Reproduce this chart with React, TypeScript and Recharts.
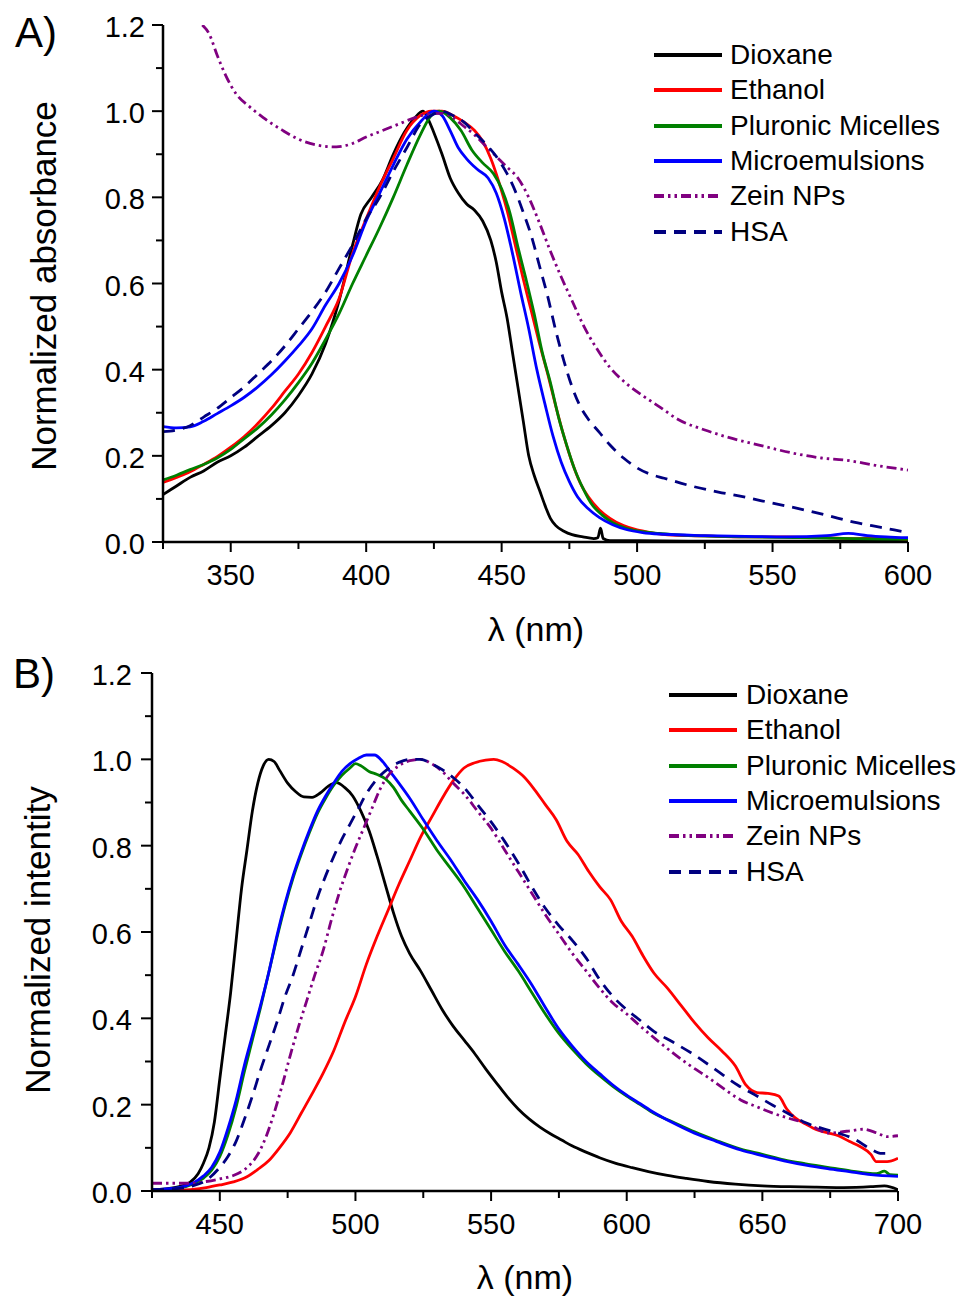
import { Legend, Line, LineChart, XAxis, YAxis } from "recharts";

const FONT = '"Liberation Sans", Arial, Helvetica, sans-serif';

type Pt = [number, number];

// A) absorption spectra: [wavelength nm, normalized absorbance]
const absDioxane: Pt[] = [
  [325, 0.11], [330, 0.13], [335, 0.15], [340, 0.165], [345, 0.185], [350, 0.2], [355, 0.22], [360, 0.245],
  [365, 0.27], [370, 0.3], [375, 0.34], [380, 0.39], [385, 0.46], [390, 0.56], [395, 0.69], [398, 0.76],
  [402, 0.8], [406, 0.84], [410, 0.9], [414, 0.95], [418, 0.985], [421, 1.0], [423, 0.98], [425, 0.95],
  [428, 0.9], [431, 0.845], [434, 0.81], [437, 0.785], [440, 0.77], [443, 0.745], [446, 0.7], [448, 0.65],
  [450, 0.58], [452, 0.52], [454, 0.44], [456, 0.36], [458, 0.28], [460, 0.2], [462, 0.155], [464, 0.12],
  [466, 0.085], [468, 0.055], [470, 0.038], [473, 0.025], [476, 0.017], [480, 0.012], [484, 0.008],
  [485.5, 0.01], [486.5, 0.032], [487.5, 0.008], [490, 0.003], [500, 0.003], [520, 0.002], [550, 0.002],
  [580, 0.002], [600, 0.002],
];
const absEthanol: Pt[] = [
  [325, 0.138], [330, 0.15], [335, 0.163], [340, 0.18], [345, 0.198], [350, 0.22], [355, 0.245], [360, 0.275],
  [365, 0.31], [370, 0.35], [375, 0.39], [380, 0.44], [385, 0.5], [390, 0.565], [395, 0.67], [400, 0.75],
  [405, 0.825], [410, 0.89], [415, 0.955], [420, 0.99], [424, 1.0], [428, 1.0], [432, 0.99], [436, 0.975],
  [440, 0.955], [443, 0.93], [446, 0.89], [449, 0.835], [452, 0.77], [455, 0.69], [458, 0.61], [461, 0.535],
  [464, 0.46], [467, 0.39], [470, 0.315], [473, 0.245], [476, 0.185], [479, 0.137], [482, 0.105], [486, 0.075],
  [490, 0.055], [495, 0.038], [500, 0.028], [505, 0.022], [513, 0.016], [525, 0.014], [540, 0.012],
  [555, 0.012], [570, 0.01], [580, 0.008], [590, 0.01], [600, 0.005],
];
const absPluronic: Pt[] = [
  [325, 0.144], [330, 0.155], [335, 0.168], [340, 0.18], [345, 0.195], [350, 0.215], [355, 0.24], [360, 0.265],
  [365, 0.295], [370, 0.33], [375, 0.37], [380, 0.415], [385, 0.47], [390, 0.53], [395, 0.6], [400, 0.665],
  [405, 0.73], [410, 0.8], [415, 0.875], [420, 0.945], [424, 0.99], [427, 1.0], [431, 0.985], [435, 0.955],
  [439, 0.91], [443, 0.88], [447, 0.855], [450, 0.82], [453, 0.765], [456, 0.685], [459, 0.61], [462, 0.53],
  [465, 0.44], [468, 0.37], [471, 0.29], [474, 0.225], [477, 0.168], [480, 0.125], [483, 0.09], [487, 0.063],
  [491, 0.045], [496, 0.032], [502, 0.024], [508, 0.02], [520, 0.015], [540, 0.012], [560, 0.01],
  [580, 0.008], [600, 0.006],
];
const absMicro: Pt[] = [
  [325, 0.268], [330, 0.265], [335, 0.267], [340, 0.28], [345, 0.298], [350, 0.316], [355, 0.336], [360, 0.36],
  [365, 0.388], [370, 0.42], [375, 0.455], [380, 0.495], [385, 0.55], [390, 0.6], [395, 0.665], [400, 0.745],
  [405, 0.81], [410, 0.875], [415, 0.935], [420, 0.975], [425, 1.0], [428, 0.99], [431, 0.955], [434, 0.915],
  [437, 0.89], [441, 0.865], [445, 0.845], [448, 0.81], [451, 0.75], [454, 0.67], [457, 0.58], [460, 0.495],
  [463, 0.4], [466, 0.32], [469, 0.245], [472, 0.185], [475, 0.14], [478, 0.105], [482, 0.077], [486, 0.057],
  [491, 0.04], [496, 0.029], [502, 0.022], [510, 0.018], [525, 0.015], [540, 0.013], [555, 0.012],
  [570, 0.015], [578, 0.02], [585, 0.015], [592, 0.012], [600, 0.01],
];
const absZein: Pt[] = [
  [339.5, 1.2], [342, 1.18], [345, 1.13], [348, 1.085], [352, 1.04], [357, 1.01], [362, 0.985], [369, 0.956],
  [375, 0.935], [382, 0.921], [389, 0.917], [395, 0.925], [400, 0.94], [406, 0.955], [412, 0.97], [418, 0.985],
  [423, 0.993], [428, 0.995], [432, 0.985], [436, 0.965], [440, 0.945], [444, 0.92], [448, 0.895], [452, 0.87],
  [456, 0.845], [460, 0.8], [464, 0.74], [468, 0.675], [472, 0.615], [476, 0.56], [480, 0.505], [485, 0.45],
  [490, 0.405], [496, 0.368], [502, 0.34], [508, 0.315], [515, 0.285], [525, 0.26], [533, 0.244],
  [545, 0.225], [557, 0.207], [568, 0.195], [577, 0.19], [588, 0.178], [600, 0.167],
];
const absHsa: Pt[] = [
  [325, 0.256], [330, 0.26], [335, 0.27], [340, 0.29], [345, 0.31], [350, 0.335], [355, 0.36], [360, 0.39],
  [365, 0.42], [370, 0.455], [375, 0.495], [380, 0.535], [385, 0.58], [390, 0.635], [395, 0.69], [400, 0.75],
  [405, 0.8], [410, 0.86], [415, 0.915], [420, 0.97], [424, 0.99], [428, 1.0], [432, 0.99], [436, 0.975],
  [440, 0.95], [444, 0.925], [448, 0.895], [452, 0.855], [455, 0.815], [458, 0.765], [461, 0.71], [464, 0.64],
  [467, 0.57], [470, 0.49], [473, 0.42], [476, 0.36], [479, 0.315], [482, 0.285], [486, 0.255], [490, 0.225],
  [495, 0.195], [500, 0.172], [505, 0.157], [510, 0.148], [520, 0.13], [530, 0.116], [540, 0.104],
  [550, 0.09], [560, 0.077], [570, 0.062], [580, 0.046], [590, 0.034], [600, 0.022],
];

// B) emission spectra: [wavelength nm, normalized intensity]
const emDioxane: Pt[] = [
  [425, 0.003], [430, 0.005], [435, 0.01], [439, 0.02], [442, 0.04], [444, 0.065], [446, 0.1], [448, 0.16],
  [450, 0.26], [452, 0.36], [454, 0.46], [456, 0.58], [458, 0.7], [460, 0.79], [462, 0.88], [464, 0.945],
  [466, 0.985], [468, 1.0], [470, 0.995], [472, 0.975], [475, 0.945], [478, 0.925], [481, 0.913], [484, 0.912],
  [487, 0.922], [490, 0.938], [493, 0.946], [496, 0.935], [499, 0.915], [502, 0.88], [505, 0.835], [508, 0.775],
  [511, 0.71], [514, 0.645], [517, 0.59], [520, 0.55], [524, 0.51], [528, 0.465], [532, 0.42], [536, 0.382],
  [540, 0.35], [544, 0.318], [548, 0.283], [552, 0.25], [556, 0.218], [560, 0.19], [564, 0.167], [568, 0.148],
  [572, 0.132], [576, 0.118], [580, 0.104], [585, 0.09], [590, 0.077], [596, 0.064], [602, 0.054], [608, 0.045],
  [615, 0.036], [622, 0.029], [630, 0.022], [640, 0.016], [650, 0.012], [660, 0.01], [670, 0.009], [680, 0.008],
  [690, 0.01], [695, 0.012], [700, 0.003],
];
const emEthanol: Pt[] = [
  [425, 0], [435, 0.002], [440, 0.004], [445, 0.008], [450, 0.014], [455, 0.021], [460, 0.033], [464, 0.05],
  [468, 0.07], [472, 0.1], [476, 0.135], [480, 0.18], [484, 0.225], [488, 0.272], [492, 0.325], [496, 0.39],
  [500, 0.45], [504, 0.525], [508, 0.59], [512, 0.65], [516, 0.71], [520, 0.765], [524, 0.82], [528, 0.865],
  [532, 0.91], [536, 0.95], [540, 0.98], [544, 0.992], [548, 0.998], [551, 1.0], [554, 0.995], [558, 0.98],
  [562, 0.96], [566, 0.93], [570, 0.895], [574, 0.86], [578, 0.81], [582, 0.78], [586, 0.74], [590, 0.705],
  [594, 0.675], [598, 0.625], [602, 0.59], [606, 0.545], [610, 0.505], [615, 0.47], [620, 0.43], [625, 0.39],
  [630, 0.355], [635, 0.325], [640, 0.29], [644, 0.245], [648, 0.228], [652, 0.226], [656, 0.22], [659, 0.19],
  [662, 0.17], [666, 0.155], [670, 0.142], [674, 0.135], [678, 0.128], [682, 0.115], [686, 0.103], [690, 0.085],
  [692, 0.068], [696, 0.068], [700, 0.076],
];
const emPluronic: Pt[] = [
  [425, 0.002], [430, 0.004], [435, 0.007], [440, 0.016], [444, 0.03], [447, 0.048], [450, 0.08], [453, 0.13],
  [456, 0.195], [459, 0.275], [462, 0.35], [465, 0.425], [468, 0.505], [471, 0.585], [474, 0.66], [477, 0.725],
  [480, 0.78], [483, 0.83], [486, 0.875], [489, 0.91], [492, 0.94], [495, 0.963], [498, 0.98], [500, 0.99],
  [502, 0.985], [505, 0.972], [508, 0.965], [511, 0.955], [514, 0.935], [517, 0.905], [520, 0.88], [525, 0.838],
  [530, 0.79], [535, 0.748], [540, 0.705], [545, 0.655], [550, 0.605], [555, 0.555], [560, 0.51], [565, 0.46],
  [570, 0.41], [575, 0.365], [580, 0.328], [585, 0.295], [590, 0.267], [595, 0.242], [600, 0.22], [605, 0.2],
  [610, 0.18], [617, 0.16], [625, 0.137], [633, 0.117], [642, 0.097], [650, 0.085], [658, 0.072], [666, 0.063],
  [674, 0.055], [682, 0.047], [688, 0.042], [692, 0.04], [695, 0.046], [697, 0.038], [700, 0.037],
];
const emMicro: Pt[] = [
  [425, 0.003], [430, 0.005], [435, 0.008], [440, 0.018], [444, 0.035], [447, 0.055], [450, 0.09], [453, 0.145],
  [456, 0.21], [459, 0.29], [462, 0.36], [465, 0.43], [468, 0.505], [471, 0.59], [474, 0.665], [477, 0.73],
  [480, 0.785], [483, 0.835], [486, 0.88], [489, 0.915], [492, 0.945], [495, 0.972], [498, 0.99], [501, 1.002],
  [504, 1.01], [507, 1.01], [510, 0.995], [513, 0.97], [516, 0.945], [520, 0.91], [525, 0.86], [530, 0.812],
  [535, 0.768], [540, 0.72], [545, 0.675], [550, 0.625], [555, 0.57], [560, 0.525], [565, 0.478], [570, 0.425],
  [575, 0.375], [580, 0.335], [585, 0.3], [590, 0.272], [595, 0.245], [600, 0.222], [605, 0.202], [610, 0.182],
  [617, 0.158], [625, 0.134], [633, 0.115], [642, 0.095], [650, 0.082], [658, 0.07], [666, 0.06], [674, 0.052],
  [682, 0.045], [690, 0.038], [700, 0.034],
];
const emZein: Pt[] = [
  [425, 0.018], [430, 0.018], [435, 0.018], [440, 0.018], [445, 0.022], [450, 0.028], [455, 0.036], [458, 0.045],
  [461, 0.06], [464, 0.085], [467, 0.125], [470, 0.18], [473, 0.245], [476, 0.315], [479, 0.38], [482, 0.44],
  [485, 0.5], [488, 0.555], [491, 0.625], [494, 0.69], [497, 0.745], [500, 0.795], [503, 0.84], [506, 0.885],
  [509, 0.93], [512, 0.962], [516, 0.985], [520, 0.997], [524, 1.0], [528, 0.99], [532, 0.972], [536, 0.945],
  [540, 0.92], [545, 0.88], [550, 0.84], [555, 0.79], [560, 0.74], [565, 0.69], [570, 0.64], [575, 0.595],
  [580, 0.55], [585, 0.51], [590, 0.47], [595, 0.435], [600, 0.41], [605, 0.382], [611, 0.35], [617, 0.32],
  [623, 0.292], [630, 0.263], [636, 0.236], [642, 0.211], [648, 0.195], [654, 0.18], [660, 0.168], [666, 0.157],
  [670, 0.145], [674, 0.134], [678, 0.136], [683, 0.14], [687, 0.143], [692, 0.135], [696, 0.126], [700, 0.128],
];
const emHsa: Pt[] = [
  [425, 0.003], [435, 0.006], [440, 0.012], [445, 0.025], [450, 0.055], [453, 0.08], [456, 0.115], [459, 0.165],
  [462, 0.22], [465, 0.28], [468, 0.335], [471, 0.39], [474, 0.45], [477, 0.5], [480, 0.56], [483, 0.62],
  [486, 0.68], [489, 0.73], [492, 0.775], [495, 0.815], [498, 0.85], [501, 0.885], [504, 0.92], [508, 0.955],
  [512, 0.978], [516, 0.993], [520, 1.0], [524, 1.0], [528, 0.99], [532, 0.976], [536, 0.958], [540, 0.935],
  [545, 0.895], [550, 0.855], [555, 0.81], [560, 0.76], [565, 0.705], [570, 0.655], [575, 0.615], [580, 0.58],
  [585, 0.54], [590, 0.49], [595, 0.45], [600, 0.42], [605, 0.395], [610, 0.37], [617, 0.345], [625, 0.315],
  [633, 0.28], [641, 0.245], [648, 0.22], [654, 0.198], [660, 0.178], [666, 0.158], [672, 0.145], [678, 0.134],
  [684, 0.12], [690, 0.097], [694, 0.087], [697, 0.087],
];

const absTicksX = [325, 350, 375, 400, 425, 450, 475, 500, 525, 550, 575, 600];
const emTicksX = [425, 450, 475, 500, 525, 550, 575, 600, 625, 650, 675, 700];
const ticksY = [0, 0.1, 0.2, 0.3, 0.4, 0.5, 0.6, 0.7, 0.8, 0.9, 1.0, 1.1, 1.2];

const seriesNames = ["Dioxane", "Ethanol", "Pluronic Micelles", "Microemulsions", "Zein NPs", "HSA"];
const absSets = [absDioxane, absEthanol, absPluronic, absMicro, absZein, absHsa];
const emSets = [emDioxane, emEthanol, emPluronic, emMicro, emZein, emHsa];

const styles = [
  { color: "#000000", dash: undefined as string | undefined },
  { color: "#ff0000", dash: undefined },
  { color: "#008000", dash: undefined },
  { color: "#0000ff", dash: undefined },
  { color: "#800080", dash: "10 4 2.5 4 2.5 4" },
  { color: "#000080", dash: "12 8" },
];

const toRows = (pts: Pt[]) => pts.map(([x, y]) => ({ x, y }));

function XTick(props: any) {
  const { x, y, payload } = props;
  const v = payload.value as number;
  const major = v % 50 === 0;
  return (
    <g>
      <line x1={x} x2={x} y1={y} y2={y + (major ? 10 : 7)} stroke="#000" strokeWidth={2} />
      {major && (
        <text x={x} y={y + 43} textAnchor="middle" fontSize={29} fontFamily={FONT} fill="#000">
          {v}
        </text>
      )}
    </g>
  );
}

function YTick(props: any) {
  const { x, y, payload, gap } = props;
  const v = payload.value as number;
  const major = Math.round(v * 10) % 2 === 0;
  return (
    <g>
      <line x1={x} x2={x - (major ? 11 : 7)} y1={y} y2={y} stroke="#000" strokeWidth={2} />
      {major && (
        <text x={x - gap} y={y + 12} textAnchor="end" fontSize={29} fontFamily={FONT} fill="#000">
          {v.toFixed(1)}
        </text>
      )}
    </g>
  );
}

function legendContent(lineLen: number, gap: number) {
  return () => (
    <div style={{ fontFamily: FONT, fontSize: 28, color: "#000" }}>
      {seriesNames.map((name, i) => (
        <div key={name} style={{ display: "flex", alignItems: "center", height: 35.3 }}>
          <svg width={lineLen} height={8} style={{ marginRight: gap, flex: "none" }}>
            <line x1={0} x2={lineLen} y1={4} y2={4} stroke={styles[i].color} strokeWidth={4}
              strokeDasharray={styles[i].dash} />
          </svg>
          <span style={{ lineHeight: 1, whiteSpace: "nowrap" }}>{name}</span>
        </div>
      ))}
    </div>
  );
}

type PanelProps = {
  sets: Pt[][];
  ticksX: number[];
  yAxisW: number;
  right: number;
  xAxisH: number;
  tickGap: number;
  panel: string;
  panelX: number;
  panelY: number;
  yTitle: string;
  yTitleX: number;
  yTitleY: number;
  xTitleX: number;
  legendLeft: number;
  legendTop: number;
  legendGap: number;
};

function Panel(p: PanelProps) {
  return (
    <LineChart width={964} height={650} margin={{ top: 25, right: p.right, bottom: 0, left: 0 }}>
      <XAxis
        type="number"
        dataKey="x"
        domain={[p.ticksX[0], p.ticksX[p.ticksX.length - 1]]}
        ticks={p.ticksX}
        interval={0}
        height={p.xAxisH}
        tickSize={0}
        tickMargin={0}
        tickLine={false}
        axisLine={{ stroke: "#000", strokeWidth: 2.5 }}
        tick={<XTick />}
        allowDataOverflow
        label={() => (
          <text x={p.xTitleX} y={641} textAnchor="middle" fontSize={34} fontFamily={FONT} fill="#000">
            λ (nm)
          </text>
        )}
      />
      <YAxis
        type="number"
        dataKey="y"
        domain={[0, 1.2]}
        ticks={ticksY}
        interval={0}
        width={p.yAxisW}
        tickSize={0}
        tickMargin={0}
        tickLine={false}
        axisLine={{ stroke: "#000", strokeWidth: 2.5 }}
        tick={<YTick gap={p.tickGap} />}
        allowDataOverflow
        label={() => (
          <g>
            <text x={p.panelX} y={p.panelY} fontSize={42} fontFamily={FONT} fill="#000">
              {p.panel}
            </text>
            <text
              transform="rotate(-90)"
              x={-p.yTitleY}
              y={p.yTitleX}
              textAnchor="middle"
              fontSize={35}
              fontFamily={FONT}
              fill="#000"
            >
              {p.yTitle}
            </text>
          </g>
        )}
      />
      <Legend
        layout="vertical"
        align="center"
        verticalAlign="middle"
        content={legendContent(68, p.legendGap)}
        wrapperStyle={{ top: p.legendTop, left: p.legendLeft, width: 310, height: "auto" }}
      />
      {p.sets.map((pts, i) => (
        <Line
          key={seriesNames[i]}
          name={seriesNames[i]}
          data={toRows(pts)}
          dataKey="y"
          type="monotone"
          stroke={styles[i].color}
          strokeWidth={2.8}
          strokeDasharray={styles[i].dash}
          dot={false}
          activeDot={false}
          isAnimationActive={false}
        />
      ))}
    </LineChart>
  );
}

export default function App() {
  return (
    <div style={{ position: "absolute", left: 0, top: 0, width: 964, height: 1300, background: "#fff" }}>
      <div style={{ position: "absolute", left: 0, top: 0 }}>
        <Panel
          sets={absSets}
          ticksX={absTicksX}
          yAxisW={163}
          right={56}
          xAxisH={108}
          tickGap={18}
          panel="A)"
          panelX={15}
          panelY={47}
          yTitle="Normalized absorbance"
          yTitleX={56}
          yTitleY={286}
          xTitleX={536}
          legendLeft={654}
          legendTop={37.5}
          legendGap={8}
        />
      </div>
      <div style={{ position: "absolute", left: 0, top: 648 }}>
        <Panel
          sets={emSets}
          ticksX={emTicksX}
          yAxisW={152}
          right={66}
          xAxisH={107}
          tickGap={20}
          panel="B)"
          panelX={13}
          panelY={40}
          yTitle="Normalized intentity"
          yTitleX={50}
          yTitleY={292}
          xTitleX={525}
          legendLeft={669}
          legendTop={29.5}
          legendGap={9}
        />
      </div>
    </div>
  );
}
